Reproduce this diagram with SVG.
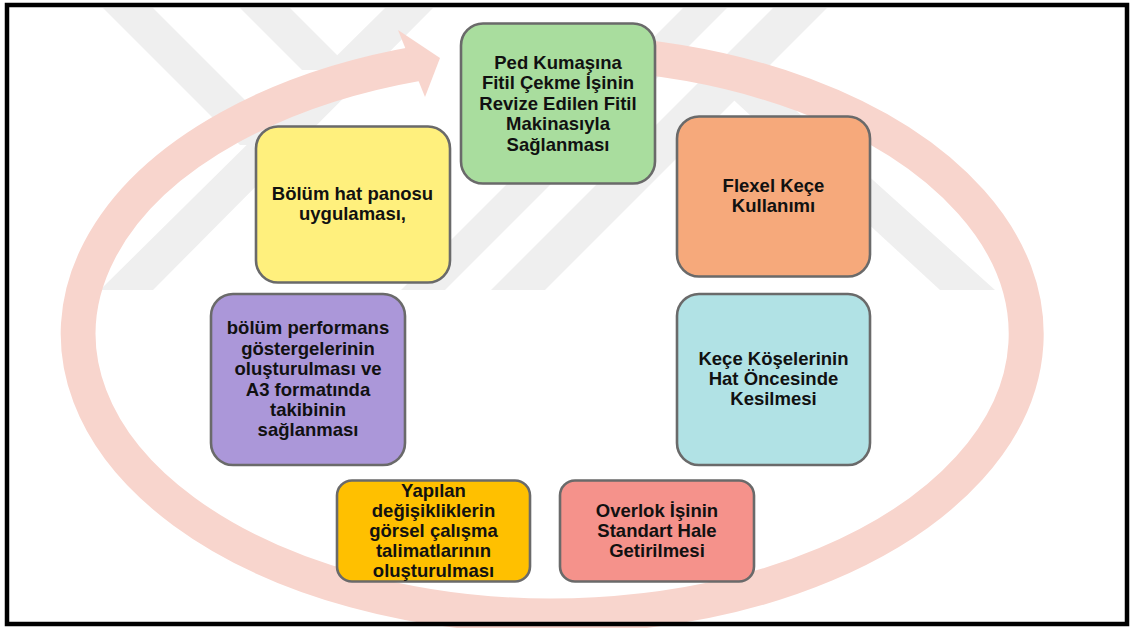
<svg xmlns="http://www.w3.org/2000/svg" width="1131" height="628" viewBox="0 0 1131 628">
  <style>
    .box { stroke: #6a6a6a; stroke-width: 2.6; }
    .lbl { font-family: "Liberation Sans", Arial, sans-serif; font-weight: bold; font-size: 18.5px; fill: #111; text-anchor: middle; }
    .wm { fill: #efefef; }
    .ring { fill: none; stroke: #f8d5cd; stroke-width: 35; }
  </style>

  <rect x="0" y="0" width="1131" height="628" fill="#ffffff"/>

  <!-- faint background emblem -->
  <g id="emblem">
    <polygon class="wm" points="103,8 153,8 290,145 240,145"/>
    <polygon class="wm" points="240,8 290,8 352,70 302,70"/>
    <polygon class="wm" points="385,8 433,8 153,290 100,290"/>
    <polygon class="wm" points="683,8 727,8 445,290 401,290"/>
    <polygon class="wm" points="773,8 827,8 545,290 491,290"/>
    <polygon class="wm" points="712,80 762,80 995,290 940,290"/>
  </g>

  <!-- circular cycle arrow -->
  <g id="connectors">
    <path class="ring" d="M 600 53.4 A 474 282 0 1 1 418 63.5"/>
    <polygon fill="#f8d5cd" points="398,30 440,58 425,97"/>
  </g>

  <g id="n-ped">
    <rect class="box" x="461" y="23.5" width="194" height="160" rx="22" fill="#a9dd9e"/>
    <text class="lbl" x="558" y="68.5">Ped Kumaşına</text>
    <text class="lbl" x="558" y="89">Fitil Çekme İşinin</text>
    <text class="lbl" x="558" y="109.5">Revize Edilen Fitil</text>
    <text class="lbl" x="558" y="130">Makinasıyla</text>
    <text class="lbl" x="558" y="150.5">Sağlanması</text>
  </g>

  <g id="n-flexel">
    <rect class="box" x="677" y="116.5" width="193" height="160" rx="22" fill="#f6a97b"/>
    <text class="lbl" x="773.5" y="192">Flexel Keçe</text>
    <text class="lbl" x="773.5" y="212">Kullanımı</text>
  </g>

  <g id="n-kose">
    <rect class="box" x="677" y="294" width="193" height="171" rx="22" fill="#b1e2e5"/>
    <text class="lbl" x="773.5" y="364.5">Keçe Köşelerinin</text>
    <text class="lbl" x="773.5" y="385">Hat Öncesinde</text>
    <text class="lbl" x="773.5" y="405">Kesilmesi</text>
  </g>

  <g id="n-overlok">
    <rect class="box" x="560" y="480.5" width="194" height="101" rx="15" fill="#f5928b"/>
    <text class="lbl" x="657" y="516.5">Overlok İşinin</text>
    <text class="lbl" x="657" y="536.5">Standart Hale</text>
    <text class="lbl" x="657" y="556.5">Getirilmesi</text>
  </g>

  <g id="n-gorsel">
    <rect class="box" x="337" y="480.5" width="193" height="101" rx="15" fill="#ffc000"/>
    <text class="lbl" x="433.5" y="497">Yapılan</text>
    <text class="lbl" x="433.5" y="517">değişikliklerin</text>
    <text class="lbl" x="433.5" y="537">görsel çalışma</text>
    <text class="lbl" x="433.5" y="557">talimatlarının</text>
    <text class="lbl" x="433.5" y="577">oluşturulması</text>
  </g>

  <g id="n-performans">
    <rect class="box" x="211" y="294" width="194" height="171" rx="22" fill="#ab97d9"/>
    <text class="lbl" x="308" y="334">bölüm performans</text>
    <text class="lbl" x="308" y="354.5">göstergelerinin</text>
    <text class="lbl" x="308" y="375">oluşturulması ve</text>
    <text class="lbl" x="308" y="395.5">A3 formatında</text>
    <text class="lbl" x="308" y="416">takibinin</text>
    <text class="lbl" x="308" y="436">sağlanması</text>
  </g>

  <g id="n-pano">
    <rect class="box" x="256" y="126.5" width="194" height="156" rx="22" fill="#fff07d"/>
    <text class="lbl" x="352.5" y="200">Bölüm hat panosu</text>
    <text class="lbl" x="352.5" y="220">uygulaması,</text>
  </g>

  <!-- outer frame -->
  <rect x="7" y="5" width="1120" height="619" fill="none" stroke="#000" stroke-width="4.5"/>
</svg>
